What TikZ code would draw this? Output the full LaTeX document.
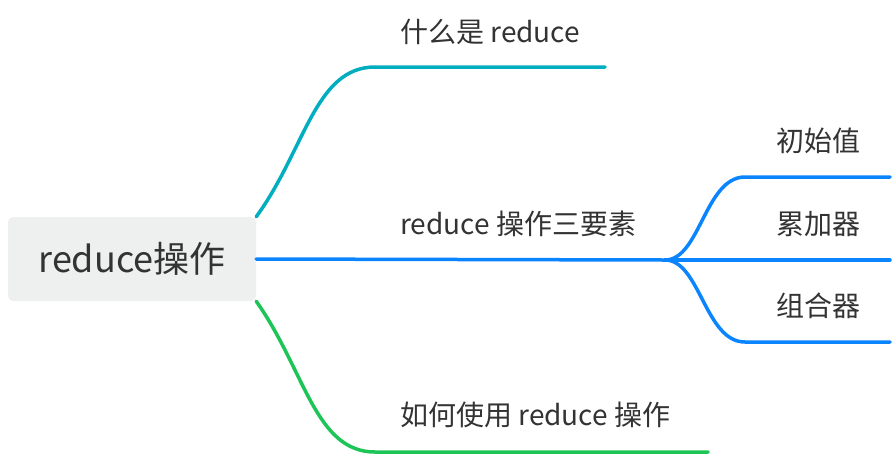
\documentclass[tikz,border=0pt]{standalone}
\usepackage{fontspec}
\setmainfont{Noto Sans CJK SC}
\definecolor{rootgray}{HTML}{EEF0EF}
\definecolor{tealbr}{HTML}{00AEC0}
\definecolor{bluebr}{HTML}{0A84FF}
\definecolor{greenbr}{HTML}{1DC456}
\definecolor{textgray}{HTML}{333333}
\tikzset{
  branch/.style={line width=3.5pt, line cap=round},
  label/.style={anchor=west, inner sep=0pt, text=textgray, font=\fontsize{28}{32}\selectfont}
}
\begin{document}
\begin{tikzpicture}[x=1pt, y=-1pt]
  % frame
  \useasboundingbox (0,0) rectangle (896,456);

  % root
  \node[fill=rootgray, rounded corners=5pt, minimum width=248pt, minimum height=84pt,
        text=textgray, font=\fontsize{36}{40}\selectfont] (root) at (132,259) {reduce操作};

  % branch one
  \coordinate (b1) at (375,67);
  \coordinate (e1) at (605,67);
  \draw[branch, tealbr] (root.north east) .. controls (305,150) and (315,67) .. (b1) -- (e1);
  \node[label] (l1) at (400,32) {什么是 reduce};

  % branch two
  \coordinate (b2) at (665,260);
  \draw[branch, bluebr] (root.east) -- (b2);
  \node[label] (l2) at (400,224) {reduce 操作三要素};

  % sub branches
  \coordinate (s1) at (745,177);
  \coordinate (s2) at (745,260);
  \coordinate (s3) at (745,342);
  \draw[branch, bluebr] (b2) .. controls (700,260) and (705,177) .. (s1) -- (890,177);
  \draw[branch, bluebr] (b2) -- (s2) -- (890,260);
  \draw[branch, bluebr] (b2) .. controls (700,260) and (705,342) .. (s3) -- (890,342);
  \node[label] (t1) at (776,141) {初始值};
  \node[label] (t2) at (776,224) {累加器};
  \node[label] (t3) at (776,306) {组合器};

  % branch three
  \coordinate (b3) at (375,452);
  \coordinate (e3) at (708,452);
  \draw[branch, greenbr] (root.south east) .. controls (305,370) and (315,452) .. (b3) -- (e3);
  \node[label] (l3) at (400,415) {如何使用 reduce 操作};
\end{tikzpicture}
\end{document}
